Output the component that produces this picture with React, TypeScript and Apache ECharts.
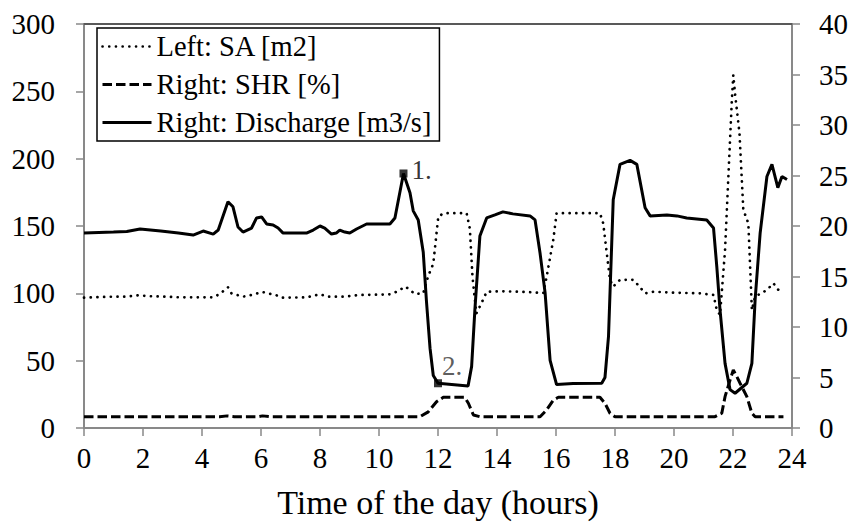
import React, { useEffect, useRef } from 'react';
import * as echarts from 'echarts';

const FONT = 'Liberation Serif';

const xTicks = { min: 0, max: 24, interval: 2 };
const leftTicks = { min: 0, max: 300, interval: 50 };
const rightTicks = { min: 0, max: 40, interval: 5 };

const seriesNames = ['Left: SA [m2]', 'Right: SHR [%]', 'Right: Discharge [m3/s]'];
const xAxisTitle = 'Time of the day (hours)';

const saHours = [0.0, 0.5, 0.95, 1.4, 1.83, 2.3, 2.8, 3.25, 3.8, 4.38, 4.6, 4.88, 5.0, 5.39, 5.62, 6.05, 6.53, 6.7, 7.54, 8.0, 8.28, 8.8, 9.35, 10.0, 10.37, 10.6, 10.9, 11.22, 11.5, 11.67, 11.84, 12.01, 12.2, 12.97, 13.08, 13.17, 13.3, 13.48, 13.65, 14.2, 15.0, 15.57, 15.68, 15.91, 16.02, 17.49, 17.6, 17.83, 17.94, 18.17, 18.62, 18.79, 19.02, 19.3, 20.0, 20.88, 21.34, 21.45, 21.56, 21.73, 21.85, 21.96, 22.01, 22.07, 22.22, 22.35, 22.52, 22.58, 22.64, 22.75, 23.15, 23.37, 23.54, 23.71];
const saValues = [96.8, 97.2, 97.5, 97.5, 98.5, 97.8, 97.5, 97.0, 97.0, 97.0, 99.5, 104.5, 100.0, 97.5, 98.5, 101.0, 98.5, 96.8, 97.0, 99.3, 97.5, 97.5, 98.8, 99.0, 99.3, 101.2, 105.0, 99.5, 100.0, 113, 122, 157, 159.5, 159.5, 148, 112, 85, 93, 101.2, 101.5, 101, 100.2, 112, 140, 159.5, 159.5, 152, 110, 105, 110, 110, 106, 100, 101.2, 100.5, 100, 98.8, 87.6, 84, 132, 190, 243, 262, 248, 219, 162, 152, 120, 87.6, 97.5, 102.5, 107.5, 102.5, 105];

const shrHours = [0, 4.6, 4.85, 5.1, 5.9, 6.05, 6.3, 11.39, 11.67, 11.95, 12.18, 12.91, 13.03, 13.2, 13.42, 15.46, 15.68, 15.91, 16.08, 17.49, 17.66, 17.83, 18.0, 21.39, 21.62, 21.73, 21.9, 22.01, 22.13, 22.24, 22.47, 22.64, 22.75, 23.71];
const shrValues = [1.12, 1.12, 1.2, 1.12, 1.12, 1.2, 1.12, 1.12, 1.6, 2.6, 3.04, 3.04, 2.45, 1.29, 1.12, 1.12, 1.78, 2.77, 3.04, 3.04, 2.45, 1.46, 1.12, 1.12, 1.46, 3.1, 4.75, 5.74, 5.08, 4.43, 3.1, 1.46, 1.12, 1.12];

const dischargeHours = [0.0, 0.5, 1.0, 1.45, 1.9, 2.6, 3.2, 3.7, 4.04, 4.38, 4.55, 4.88, 5.05, 5.22, 5.39, 5.68, 5.85, 6.02, 6.19, 6.41, 6.58, 6.75, 7.54, 7.77, 8.0, 8.16, 8.39, 8.55, 8.67, 8.84, 9.01, 9.24, 9.58, 10.37, 10.54, 10.83, 11.05, 11.16, 11.33, 11.5, 11.61, 11.73, 11.84, 12.0, 13.02, 13.14, 13.25, 13.42, 13.65, 13.93, 14.2, 14.54, 15.12, 15.29, 15.46, 15.63, 15.8, 16.02, 16.58, 17.55, 17.66, 17.78, 17.94, 18.17, 18.51, 18.74, 19.02, 19.19, 19.76, 20.1, 20.43, 21.11, 21.34, 21.45, 21.56, 21.73, 21.9, 22.07, 22.47, 22.64, 22.75, 22.92, 23.15, 23.32, 23.52, 23.66, 23.83];
const dischargeValues = [19.3, 19.35, 19.4, 19.45, 19.7, 19.5, 19.3, 19.1, 19.5, 19.2, 19.6, 22.4, 21.9, 19.9, 19.4, 19.8, 20.8, 20.9, 20.2, 20.1, 19.8, 19.3, 19.3, 19.6, 20.0, 19.8, 19.2, 19.3, 19.6, 19.4, 19.3, 19.7, 20.2, 20.2, 20.8, 25.2, 23.3, 21.5, 20.6, 17.4, 12.5, 7.9, 5.2, 4.43, 4.17, 6.1, 11.7, 19.0, 20.8, 21.1, 21.4, 21.2, 21.0, 20.6, 17.3, 13.4, 6.7, 4.3, 4.4, 4.43, 5.0, 9.06, 22.6, 26.1, 26.5, 26.1, 21.8, 21.0, 21.1, 21.0, 20.8, 20.6, 19.8, 16.0, 11.7, 6.4, 3.8, 3.44, 4.43, 6.4, 12.7, 19.3, 24.9, 26.1, 23.8, 24.9, 24.6];

const markerHours = [10.83, 12.0];
const markerValues = [25.2, 4.43];
const markerLabels = ['1.', '2.'];

const zip = (xs: number[], ys: number[]) => xs.map((x, i) => [x, ys[i]]);

const AXIS_GRAY = '#898989';

function buildOption() {
  const labelStyle = { fontFamily: FONT, fontSize: 29, color: '#000' };
  return {
    animation: false,
    backgroundColor: '#ffffff',
    textStyle: { fontFamily: FONT, color: '#000' },
    grid: { left: 84, right: 61, top: 24, bottom: 100, containLabel: false },
    legend: {
      orient: 'vertical',
      left: 97,
      top: 28,
      itemWidth: 49,
      itemHeight: 14,
      itemGap: 9,
      itemTextGap: 1,
      selectedMode: false,
      backgroundColor: '#fff',
      borderColor: '#000',
      borderWidth: 1.5,
      padding: [4, 8, 4, 4],
      itemStyle: { opacity: 0 },
      textStyle: { fontFamily: FONT, fontSize: 28.5, lineHeight: 29, color: '#000' },
      data: [
        { name: seriesNames[0], lineStyle: { width: 2.6 } },
        { name: seriesNames[1], lineStyle: { width: 3 } },
        { name: seriesNames[2], lineStyle: { width: 3 } },
      ],
    },
    xAxis: [
      {
        type: 'value',
        position: 'bottom',
        ...xTicks,
        axisLine: { show: true, onZero: false, lineStyle: { color: AXIS_GRAY, width: 2 } },
        axisTick: { show: true, inside: false, length: 8, lineStyle: { color: AXIS_GRAY, width: 1.5 } },
        axisLabel: { ...labelStyle, margin: 15 },
        splitLine: { show: false },
        name: xAxisTitle,
        nameLocation: 'middle',
        nameGap: 57,
        nameTextStyle: { fontFamily: FONT, fontSize: 34, color: '#000' },
      },
      {
        type: 'value',
        position: 'top',
        ...xTicks,
        axisLine: { show: true, onZero: false, lineStyle: { color: '#595959', width: 2 } },
        axisTick: { show: false },
        axisLabel: { show: false },
        splitLine: { show: false },
      },
    ],
    yAxis: [
      {
        type: 'value',
        position: 'left',
        ...leftTicks,
        axisLine: { show: true, onZero: false, lineStyle: { color: AXIS_GRAY, width: 2 } },
        axisTick: { show: true, inside: false, length: 8, lineStyle: { color: AXIS_GRAY, width: 1.5 } },
        axisLabel: { ...labelStyle, margin: 29 },
        splitLine: { show: false },
      },
      {
        type: 'value',
        position: 'right',
        ...rightTicks,
        axisLine: { show: true, onZero: false, lineStyle: { color: AXIS_GRAY, width: 2 } },
        axisTick: { show: true, inside: false, length: 8, lineStyle: { color: AXIS_GRAY, width: 1.5 } },
        axisLabel: { ...labelStyle, margin: 27 },
        splitLine: { show: false },
      },
    ],
    series: [
      {
        name: seriesNames[0],
        type: 'line',
        xAxisIndex: 0,
        yAxisIndex: 0,
        data: zip(saHours, saValues),
        symbol: 'none',
        showSymbol: false,
        color: '#000',
        lineStyle: { color: '#000', width: 2.7, type: [0.1, 6.6], cap: 'round' },
        z: 3,
      },
      {
        name: seriesNames[1],
        type: 'line',
        xAxisIndex: 0,
        yAxisIndex: 1,
        data: zip(shrHours, shrValues),
        symbol: 'none',
        showSymbol: false,
        color: '#000',
        lineStyle: { color: '#000', width: 3, type: [9.5, 4] },
        z: 3,
      },
      {
        name: seriesNames[2],
        type: 'line',
        xAxisIndex: 0,
        yAxisIndex: 1,
        data: zip(dischargeHours, dischargeValues),
        symbol: 'none',
        showSymbol: false,
        color: '#000',
        lineStyle: { color: '#000', width: 3 },
        z: 4,
      },
      {
        name: 'markers',
        type: 'scatter',
        xAxisIndex: 0,
        yAxisIndex: 1,
        symbol: 'rect',
        symbolSize: 8,
        itemStyle: { color: '#000' },
        z: 5,
        data: markerHours.map((h, i) => ({
          value: [h, markerValues[i]],
          label: {
            show: true,
            formatter: markerLabels[i],
            position: 'right',
            distance: i === 0 ? 4 : 0,
            offset: i === 0 ? [0, -3] : [0, -17],
            fontFamily: FONT,
            fontSize: 27,
            color: i === 0 ? '#000' : '#333',
          },
        })),
      },
    ],
  };
}

export default function App() {
  const ref = useRef<HTMLDivElement>(null);
  useEffect(() => {
    if (!ref.current) return;
    const chart = echarts.init(ref.current, null, { renderer: 'svg' });
    chart.setOption(buildOption() as any);
    return () => chart.dispose();
  }, []);
  return (
    <div
      ref={ref}
      style={{ position: 'fixed', left: 0, top: 0, width: 853, height: 528, background: '#fff' }}
    />
  );
}
